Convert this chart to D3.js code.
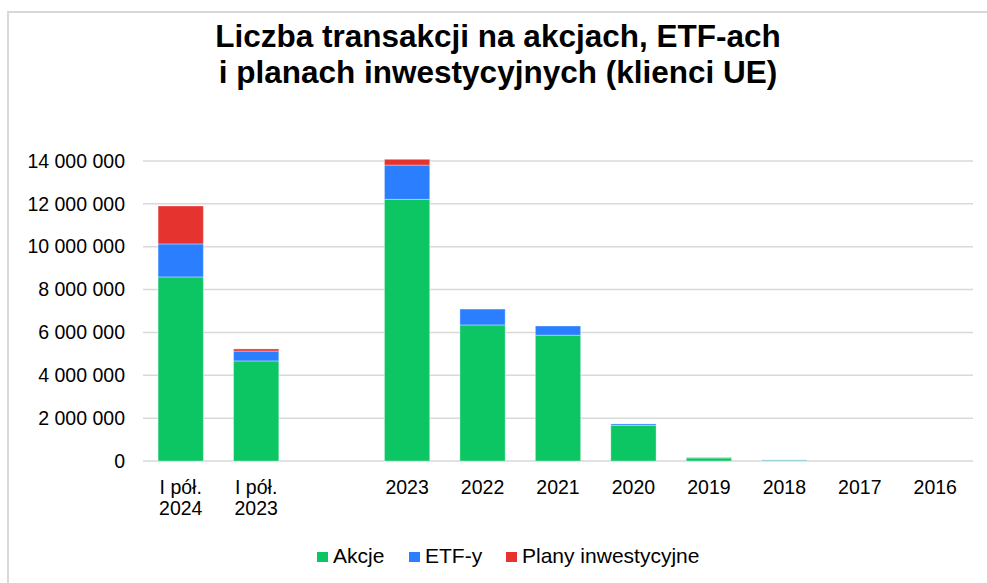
<!DOCTYPE html>
<html>
<meta charset="utf-8">
<style>
body {
  margin: 0;
  background: #fff;
}
svg {
  font-family: "Liberation Sans", Arial, sans-serif;
}
.grid line {
  stroke: #d9d9d9;
  stroke-width: 1.5px;
}
.axis text {
  font-size: 19.5px;
  fill: #000;
}
</style>
<body>
<svg width="987" height="583"></svg>
<script src="https://cdn.jsdelivr.net/npm/d3@7"></script>
<script>

// data
var categories = ["I pół.\n2024", "I pół.\n2023", "", "2023", "2022", "2021", "2020", "2019", "2018", "2017", "2016"];
var akcje = [8590000, 4670000, 0, 12210000, 6350000, 5870000, 1660000, 140000, 30000, 0, 0];
var etfy  = [1540000, 460000, 0, 1600000, 740000, 430000, 70000, 20000, 20000, 0, 0];
var plany = [1770000, 100000, 0, 270000, 0, 0, 0, 0, 0, 0, 0];
var seriesNames = ["Akcje", "ETF-y", "Plany inwestycyjne"];
var yTicks = [0, 2000000, 4000000, 6000000, 8000000, 10000000, 12000000, 14000000];

var color = d3.scaleOrdinal()
    .domain(seriesNames)
    .range(["#0cc664", "#2b7fff", "#e5332f"]);

var svg = d3.select("svg"),
    width = +svg.attr("width"),
    height = +svg.attr("height");

var margin = {left: 143, right: 14, top: 161, bottom: 122};

var rows = categories.map(function(c, i) {
  return {cat: c, "Akcje": akcje[i], "ETF-y": etfy[i], "Plany inwestycyjne": plany[i]};
});

var x = d3.scaleBand()
    .domain(categories)
    .range([margin.left, width - margin.right])
    .paddingInner(0.4)
    .paddingOuter(0.2);

var y = d3.scaleLinear()
    .domain([0, 14000000])
    .range([height - margin.bottom, margin.top]);

var fmt = d3.formatLocale({decimal: ",", thousands: " ", grouping: [3], currency: ["", " zł"]}).format(",d");

// frame
svg.append("rect")
    .attr("x", 8)
    .attr("y", 12)
    .attr("width", width)
    .attr("height", height)
    .attr("fill", "none")
    .attr("stroke", "#d9d9d9")
    .attr("stroke-width", 2);

// title
var title = svg.append("text")
    .attr("text-anchor", "middle")
    .attr("font-size", "31.5px")
    .attr("font-weight", "bold");
title.append("tspan").attr("x", 498).attr("y", 47).text("Liczba transakcji na akcjach, ETF-ach");
title.append("tspan").attr("x", 498).attr("y", 83).text("i planach inwestycyjnych (klienci UE)");

// gridlines
svg.append("g")
    .attr("class", "grid")
  .selectAll("line")
  .data(yTicks)
  .enter().append("line")
    .attr("x1", margin.left)
    .attr("x2", width - margin.right)
    .attr("y1", function(d) { return y(d); })
    .attr("y2", function(d) { return y(d); });

// y axis labels
var yAxis = svg.append("g")
    .attr("class", "axis")
    .attr("transform", "translate(" + margin.left + ",0)")
    .call(d3.axisLeft(y).tickValues(yTicks).tickFormat(fmt).tickSize(0).tickPadding(18));
yAxis.select(".domain").remove();

// stacked bars
var stack = d3.stack().keys(seriesNames);
var layers = stack(rows);

svg.append("g")
  .selectAll("g")
  .data(layers)
  .enter().append("g")
    .attr("fill", function(d) { return color(d.key); })
  .selectAll("rect")
  .data(function(d) { return d.filter(function(p) { return p[1] - p[0] > 0; }); })
  .enter().append("rect")
    .attr("x", function(d) { return x(d.data.cat); })
    .attr("width", x.bandwidth())
    .attr("y", function(d) { return y(d[1]); })
    .attr("height", function(d) { return y(d[0]) - y(d[1]); })
    .attr("stroke", "#fff")
    .attr("stroke-opacity", 0.35)
    .attr("stroke-width", 1);

// x axis labels
var xLabels = svg.append("g")
    .attr("class", "axis")
  .selectAll("text")
  .data(categories)
  .enter().append("text")
    .attr("text-anchor", "middle")
    .attr("y", 494);
xLabels.selectAll("tspan")
  .data(function(d) { return d.split("\n").map(function(t) { return {t: t, cat: d}; }); })
  .enter().append("tspan")
    .attr("x", function(d) { return x(d.cat) + x.bandwidth() / 2; })
    .attr("dy", function(d, i) { return i ? 21 : 0; })
    .text(function(d) { return d.t; });

// legend
var legendX = [317, 409, 506];
var legend = svg.append("g")
  .selectAll("g")
  .data(seriesNames)
  .enter().append("g")
    .attr("transform", function(d, i) { return "translate(" + legendX[i] + ",552)"; });

legend.append("rect")
    .attr("width", 11)
    .attr("height", 10)
    .attr("fill", function(d) { return color(d); });

legend.append("text")
    .attr("x", 16)
    .attr("y", 11)
    .attr("font-size", "21px")
    .text(function(d) { return d; });

</script>
</body>
</html>
